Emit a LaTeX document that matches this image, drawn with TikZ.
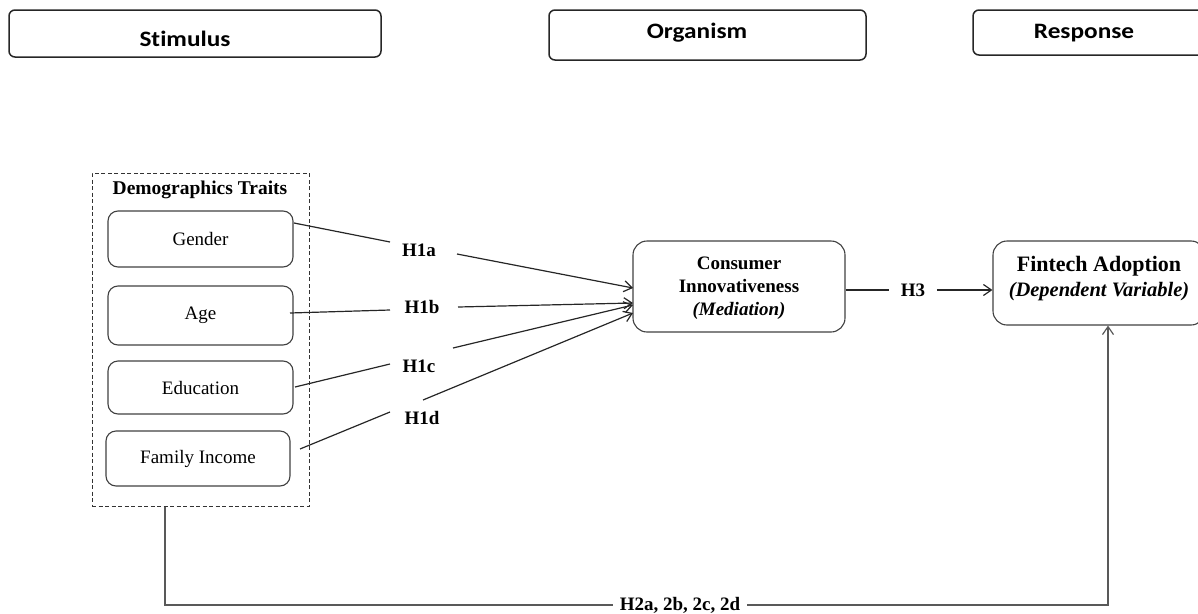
\documentclass[tikz,border=0pt]{standalone}
\usepackage{fontspec}
\setmainfont{Liberation Serif}
\newfontfamily\hdfont[FakeStretch=1.15,Ligatures=NoCommon]{Carlito}
\usetikzlibrary{arrows.meta}
\begin{document}
\begin{tikzpicture}[x=1pt,y=-1pt,
  hdr/.style={draw=black!85, line width=1.5pt, rounded corners=6pt, inner sep=0pt},
  hdrtxt/.style={font=\hdfont\bfseries\fontsize{22}{26}\selectfont, inner sep=0pt},
  var/.style={draw=black!75, line width=1.1pt, rounded corners=10pt, inner sep=0pt, font=\fontsize{19}{23}\selectfont},
  lab/.style={font=\bfseries\fontsize{19}{23}\selectfont, inner sep=0pt},
  conn/.style={draw=black!85, line width=1.2pt},
  arr/.style={conn, -{Straight Barb[length=8pt,width=11pt,line width=1.2pt]}},
  bottomline/.style={draw=black!65, line width=2pt},
]
\useasboundingbox (0,0) rectangle (1198,613);

% header boxes
\node[hdr, minimum width=372pt, minimum height=47pt] (stim) at (195,33.5) {};
\node[hdrtxt] (stimt) at (185,39) {Stimulus};
\node[hdr, minimum width=317pt, minimum height=50pt] (org) at (707.5,35) {};
\node[hdrtxt] (orgt) at (697,33) {Organism};
\node[hdr, minimum width=232pt, minimum height=45pt] (resp) at (1089,32.5) {};
\node[hdrtxt] (respt) at (1084,33) {Response};

% demographics group
\node[draw=black!80, dash pattern=on 4pt off 2.5pt, line width=1pt, minimum width=217pt, minimum height=333pt, inner sep=0pt] (demo) at (200.5,339.5) {};
\node[lab, font=\bfseries\fontsize{19.5}{23}\selectfont] (demot) at (200,190) {Demographics Traits};

\node[var, minimum width=185pt, minimum height=56pt] (gender) at (200.5,239) {Gender};
\node[var, minimum width=185pt, minimum height=59pt] (age) at (200.5,315.5) {Age};
\node[var, minimum width=185pt, minimum height=53pt] (edu) at (200.5,387.5) {Education};
\node[var, minimum width=184pt, minimum height=55pt] (inc) at (198,458.5) {Family Income};

% mediator and outcome
\node[var, rounded corners=14pt, minimum width=212pt, minimum height=91pt] (ci) at (739,286.5) {};
\node[lab, align=center] (cit) at (739,288) {Consumer\\Innovativeness\\{\itshape (Mediation)}};
\node[var, rounded corners=14pt, minimum width=212pt, minimum height=84pt] (fa) at (1099,283) {};
\node[inner sep=0pt, align=center, font=\bfseries\fontsize{20.5}{25}\selectfont] (fat) at (1099,279)
  {{\fontsize{22}{25}\selectfont Fintech Adoption}\\{\itshape (Dependent Variable)}};

% hypothesis labels
\node[lab] (h1a) at (419,250) {H1a};
\node[lab] (h1b) at (422,307) {H1b};
\node[lab] (h1c) at (419,366) {H1c};
\node[lab] (h1d) at (422,418) {H1d};
\node[lab, inner xsep=11.5pt] (h3) at (913,290) {H3};
\node[lab, inner xsep=7pt] (h2) at (680,605) {H2a, 2b, 2c, 2d};

% connector break points
\coordinate (a0) at (294,223); \coordinate (a1) at (390,242); \coordinate (a2) at (457,254); \coordinate (a3) at (633,288);
\coordinate (b0) at (290,313); \coordinate (b1) at (390,310); \coordinate (b2) at (458,307); \coordinate (b3) at (633,303);
\coordinate (c0) at (295,387); \coordinate (c1) at (390,364); \coordinate (c2) at (453,348); \coordinate (c3) at (633,305);
\coordinate (d0) at (300,449); \coordinate (d1) at (390,412); \coordinate (d2) at (423,400); \coordinate (d3) at (633,313);
\coordinate (bl) at (165,605); \coordinate (br) at (1108,605);

\draw[conn] (a0) -- (a1); \draw[arr] (a2) -- (a3);
\draw[conn] (b0) -- (b1); \draw[arr] (b2) -- (b3);
\draw[conn] (c0) -- (c1); \draw[arr] (c2) -- (c3);
\draw[conn] (d0) -- (d1); \draw[arr] (d2) -- (d3);

\draw[conn] (ci.east |- h3) -- (h3.west);
\draw[arr] (h3.east) -- (h3 -| fa.west);

\draw[bottomline] (demo.south -| bl) -- (bl) -- (h2.west);
\draw[bottomline, -{Straight Barb[length=8pt,width=11pt,line width=1.2pt]}] (h2.east) -- (br) -- (fa.south -| br);
\end{tikzpicture}
\end{document}
